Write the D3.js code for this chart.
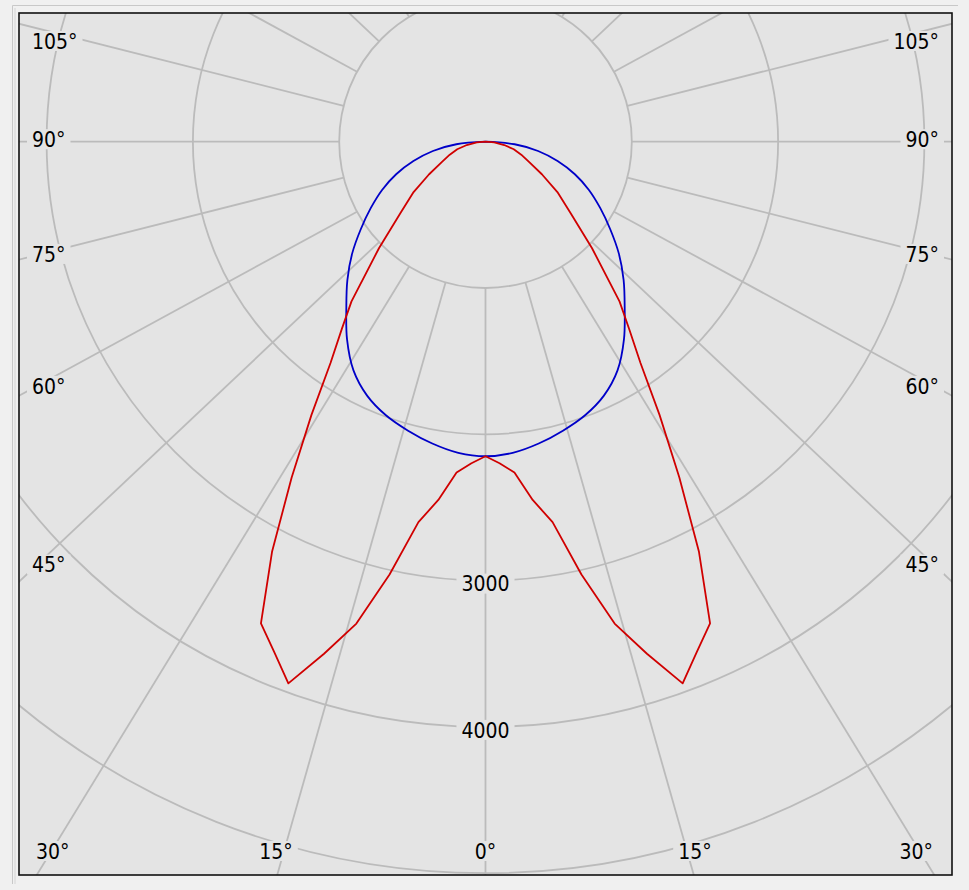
<!DOCTYPE html>
<html><head><meta charset="utf-8">
<script src="https://cdn.jsdelivr.net/npm/d3@7"></script>
<style>html,body{margin:0;padding:0;background:#f0f0f0;overflow:hidden}</style>
</head><body>
<svg id="chart" width="969" height="890"></svg>
<script>
// ---- data (gamma angle in degrees from nadir, intensity in cd) ----
const redAngles  = [0,2.5,5,7.5,10,12.5,15,17.5,20,22.5,25,27.5,30,32.5,35,37.5,40,45,50,55,60,65,70,75,80,85,90];
const redValues  = [2150,2200,2270,2470,2640,3030,3410,3670,3940,3775,3632,3160,2650,2214,1847,1613,1425,1030,760,600,445,330,260,200,130,60,0];
const blueAngles = [0,5,10,15,20,25,30,35,40,45,50,55,60,65,70,75,80,85,90];
const blueValues = [2150,2135,2095,2045,1990,1915,1805,1650,1480,1335,1190,1040,905,780,650,510,365,200,0];
const ringValues = [1000,2000,3000,4000,5000,6000];
const ringLabels = [3000,4000];
const spokeAngles = d3.range(0,360,15);
const angleLabels = [-105,-90,-75,-60,-45,-30,-15,0,15,30,45,60,75,90,105];

// ---- layout ----
const plot = {x0:19, y0:13, x1:952, y1:875};
const cx = 485.5, cy = 141.7;
const r = d3.scaleLinear().domain([0,1000]).range([0,146.3]);
const skew = 1.06;           // horizontal skew of the spoke directions
const fs = 21;
const font = "'DejaVu Sans Condensed','DejaVu Sans',sans-serif";
const bg = "#e4e4e4", gridC = "#bbbbbb";
const rad = d => d*Math.PI/180;
const spokeDir = deg => { const t = rad(deg); const p = Math.atan2(skew*Math.sin(t), Math.cos(t)); return [Math.sin(p), Math.cos(p)]; };

const svg = d3.select("#chart");
// outer light frame
svg.append("path").attr("d", `M12.5,884 V5.5 H958`).attr("fill","none").attr("stroke","#c8c8c8").attr("stroke-width",1);
svg.append("line").attr("x1",15).attr("x2",15).attr("y1",8).attr("y2",884).attr("stroke","#d4d4d4").attr("stroke-width",1);

svg.append("rect").attr("x",plot.x0).attr("y",plot.y0).attr("width",plot.x1-plot.x0).attr("height",plot.y1-plot.y0).attr("fill",bg);
svg.append("clipPath").attr("id","clip").append("rect")
  .attr("x",plot.x0).attr("y",plot.y0).attr("width",plot.x1-plot.x0).attr("height",plot.y1-plot.y0);
const g = svg.append("g").attr("clip-path","url(#clip)");

// rings
g.selectAll("circle.ring").data(ringValues).join("circle").attr("class","ring")
  .attr("cx",cx).attr("cy",cy).attr("r",d=>r(d))
  .attr("fill","none").attr("stroke",gridC).attr("stroke-width",1.8);
// spokes
g.selectAll("line.spoke").data(spokeAngles).join("line").attr("class","spoke")
  .each(function(d){
    const [sx,sy] = spokeDir(d);
    d3.select(this).attr("x1",cx+r(1000)*sx).attr("y1",cy+r(1000)*sy)
      .attr("x2",cx+r(7000)*sx).attr("y2",cy+r(7000)*sy);
  })
  .attr("stroke",gridC).attr("stroke-width",1.8);

// label helper with background box
function label(x, y, text, anchor){
  const grp = g.append("g");
  const box = grp.append("rect").attr("fill",bg);
  const t = grp.append("text").attr("x",x).attr("y",y+0.365*fs).attr("text-anchor",anchor)
    .attr("font-family",font).attr("font-size",fs).attr("fill","#000").text(text);
  const b = t.node().getBBox();
  box.attr("x",b.x-5).attr("y",y-10).attr("width",b.width+10).attr("height",20);
  return t;
}

// ring labels on the 0° spoke
ringLabels.forEach(v => label(cx, cy + r(v) + 3, String(v), "middle"));

// angle labels
const ins = {L:47, R:924, T:41, B:851};
angleLabels.forEach(a => {
  const [dx,dy] = spokeDir(a);
  const tx = dx < 0 ? (ins.L-cx)/dx : (dx > 0 ? (ins.R-cx)/dx : Infinity);
  const ty = dy > 0 ? (ins.B-cy)/dy : (ins.T-cy)/dy;
  const txt = Math.abs(a) + "°";
  if (Math.abs(a) >= 45 && tx <= ty || Math.abs(a) >= 90) {
    let y = cy + tx*dy + 0.26*(90-Math.abs(a)) - 2.5;
    y = Math.max(y, ins.T);
    if (dx < 0) label(32, y, txt, "start"); else label(939, y, txt, "end");
  } else {
    let x = cx + ty*dx + 8*Math.sign(dx);
    const tmp = svg.append("text").attr("font-family",font).attr("font-size",fs).text(txt);
    const w = tmp.node().getComputedTextLength(); tmp.remove();
    x = Math.max(36 + w/2, Math.min(933 - w/2, x));
    label(x, ins.B, txt, "middle");
  }
});

// curves
function mirrored(angles, values){
  const pts = [];
  for (let i = angles.length-1; i >= 0; i--) pts.push({a:-angles[i], v:values[i]});
  for (let i = 1; i < angles.length; i++) pts.push({a:angles[i], v:values[i]});
  return pts;
}
const radial = d3.lineRadial().angle(d => Math.PI - rad(d.a)).radius(d => r(d.v));
const curves = g.append("g").attr("transform",`translate(${cx},${cy})`);
curves.append("path").attr("d", radial.curve(d3.curveCatmullRom.alpha(0.5))(mirrored(blueAngles, blueValues)))
  .attr("fill","none").attr("stroke","#0000c8").attr("stroke-width",1.8).attr("stroke-linejoin","round");
curves.append("path").attr("d", radial.curve(d3.curveLinear)(mirrored(redAngles, redValues)))
  .attr("fill","none").attr("stroke","#d00000").attr("stroke-width",1.8).attr("stroke-linejoin","round");

// frame
svg.append("rect").attr("x",plot.x0).attr("y",plot.y0).attr("width",plot.x1-plot.x0).attr("height",plot.y1-plot.y0)
  .attr("fill","none").attr("stroke","#111").attr("stroke-width",1.6);
</script>
</body></html>
